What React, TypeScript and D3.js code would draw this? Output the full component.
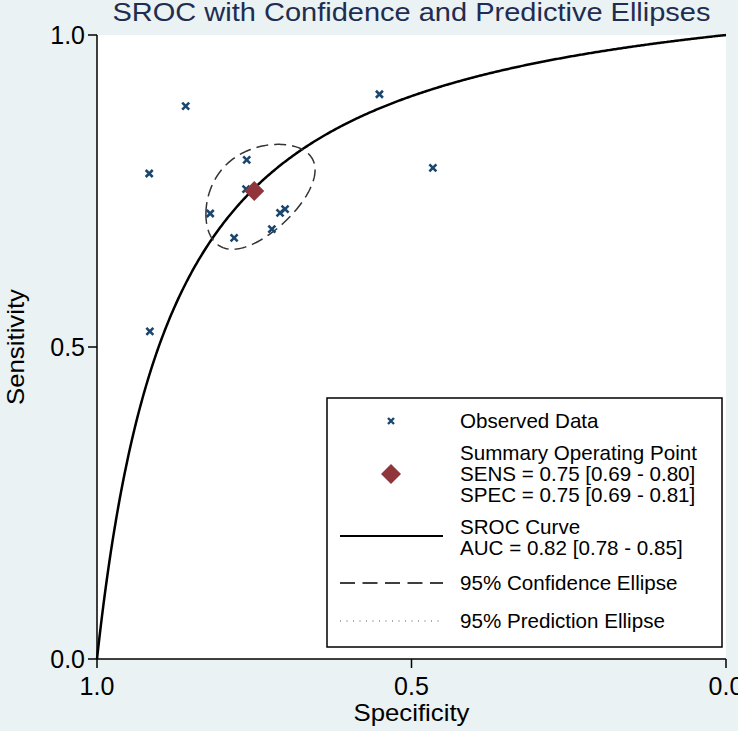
import * as d3 from "d3";

// observed studies (specificity, sensitivity)
const obsSpec = [0.917, 0.859, 0.916, 0.762, 0.820, 0.782, 0.722, 0.709, 0.701, 0.551, 0.466, 0.763];
const obsSens = [0.778, 0.886, 0.525, 0.800, 0.714, 0.675, 0.689, 0.715, 0.721, 0.905, 0.787, 0.753];

// summary operating point
const sumSens = 0.75;
const sumSpec = 0.75;

// SROC: logit(sens) = alpha + beta * logit(1 - spec)
const srocAlpha = 2.22;
const srocBeta = 1.0;

// confidence ellipse in logit space
const seLogitSpec = 0.19;
const seLogitSens = 0.184;
const rhoLogit = -0.42;
const chi2k = 2.447;

const ticks = [1.0, 0.5, 0.0];
const legendLabels = [
  ["Observed Data"],
  ["Summary Operating Point", "SENS = 0.75 [0.69 - 0.80]", "SPEC = 0.75 [0.69 - 0.81]"],
  ["SROC Curve", "AUC = 0.82 [0.78 - 0.85]"],
  ["95% Confidence Ellipse"],
  ["95% Prediction Ellipse"],
];

const W = 738;
const H = 731;
const left = 97, right = 726, top = 35, bottom = 659;
const font = "Arial, 'Liberation Sans', sans-serif";
const navy = "#1a476f";
const maroon = "#90353b";

const logit = (p: number) => Math.log(p / (1 - p));
const expit = (v: number) => 1 / (1 + Math.exp(-v));

export default function App() {
  const x = d3.scaleLinear().domain([1, 0]).range([left, right]);
  const y = d3.scaleLinear().domain([0, 1]).range([bottom, top]);

  const line = d3.line<[number, number]>().x(d => x(d[0])).y(d => y(d[1]));

  const fprs = d3.range(0, 1.0001, 0.002);
  const curve: [number, number][] = fprs.map(f => {
    if (f <= 0) return [1, 0];
    if (f >= 1) return [0, 1];
    return [1 - f, expit(srocAlpha + srocBeta * logit(f))];
  });

  const mx = logit(sumSpec), my = logit(sumSens);
  const ell: [number, number][] = d3.range(0, 2 * Math.PI + 0.001, Math.PI / 90).map(t => {
    const lx = mx + chi2k * seLogitSpec * Math.cos(t);
    const ly = my + chi2k * seLogitSens * (rhoLogit * Math.cos(t) + Math.sqrt(1 - rhoLogit * rhoLogit) * Math.sin(t));
    return [expit(lx), expit(ly)];
  });

  const xMark = (cx: number, cy: number, r: number) =>
    `M${cx - r},${cy - r}L${cx + r},${cy + r}M${cx - r},${cy + r}L${cx + r},${cy - r}`;
  const diamond = (cx: number, cy: number, r: number) =>
    `M${cx},${cy - r}L${cx + r},${cy}L${cx},${cy + r}L${cx - r},${cy}Z`;

  // legend layout
  const lgX = 327, lgY = 398, lgW = 395, lgH = 249;
  const symX = 391, txtX = 460;
  const rowY = [421, 474, 536, 583, 621];
  const firstLineY = [421, 453, 527, 583, 621];
  const lh = 21;

  return (
    <svg width={W} height={H} style={{ position: "absolute", left: 0, top: 0, fontFamily: font }}>
      <rect width={W} height={H} fill="#eaf2f3" />
      <rect x={left} y={top} width={right - left} height={bottom - top} fill="#ffffff" />

      <text x={(left + right) / 2} y={21} textAnchor="middle" fontSize={26} fill="#1e2d50"
        textLength={598} lengthAdjust="spacingAndGlyphs">
        SROC with Confidence and Predictive Ellipses
      </text>

      {/* SROC curve */}
      <path d={line(curve) || ""} fill="none" stroke="#000" strokeWidth={2.5} />

      {/* confidence ellipse */}
      <path d={line(ell) || ""} fill="none" stroke="#333" strokeWidth={1.5} strokeDasharray="12,6" />

      {/* observed */}
      {obsSpec.map((s, i) => (
        <path key={i} d={xMark(x(s), y(obsSens[i]), 3.5)} stroke={navy} strokeWidth={2.6} fill="none" />
      ))}

      {/* summary point */}
      <path d={diamond(x(sumSpec), y(sumSens), 10)} fill={maroon} />

      {/* axes */}
      <line x1={left} x2={left} y1={top} y2={bottom} stroke="#000" strokeWidth={1.5} />
      <line x1={left} x2={right} y1={bottom} y2={bottom} stroke="#000" strokeWidth={1.5} />
      {ticks.map(t => (
        <g key={"y" + t}>
          <line x1={left - 9} x2={left} y1={y(t)} y2={y(t)} stroke="#000" strokeWidth={1.5} />
          <text x={left - 12} y={y(t) + 9} textAnchor="end" fontSize={25} fill="#000">{t.toFixed(1)}</text>
        </g>
      ))}
      {ticks.map(t => (
        <g key={"x" + t}>
          <line x1={x(t)} x2={x(t)} y1={bottom} y2={bottom + 9} stroke="#000" strokeWidth={1.5} />
          <text x={x(t)} y={bottom + 36} textAnchor="middle" fontSize={25} fill="#000">{t.toFixed(1)}</text>
        </g>
      ))}
      <text x={(left + right) / 2} y={721} textAnchor="middle" fontSize={24} fill="#000"
        textLength={116} lengthAdjust="spacingAndGlyphs">Specificity</text>
      <text transform={`translate(24,${(top + bottom) / 2}) rotate(-90)`} textAnchor="middle" fontSize={24} fill="#000"
        textLength={116} lengthAdjust="spacingAndGlyphs">Sensitivity</text>

      {/* legend */}
      <rect x={lgX} y={lgY} width={lgW} height={lgH} fill="#fff" stroke="#000" strokeWidth={1.5} />
      <path d={xMark(symX, rowY[0], 3)} stroke={navy} strokeWidth={2.4} fill="none" />
      <path d={diamond(symX, rowY[1], 10)} fill={maroon} />
      <line x1={340} x2={443} y1={rowY[2]} y2={rowY[2]} stroke="#000" strokeWidth={2.2} />
      <line x1={340} x2={443} y1={rowY[3]} y2={rowY[3]} stroke="#000" strokeWidth={1.5} strokeDasharray="15,7.5" />
      <line x1={340} x2={443} y1={rowY[4]} y2={rowY[4]} stroke="#555" strokeWidth={1} strokeDasharray="1,5.5" />
      {legendLabels.map((lines, i) =>
        lines.map((s, j) => (
          <text key={i + "-" + j} x={txtX} y={firstLineY[i] + j * lh + 7} fontSize={20.6} fill="#000">{s}</text>
        ))
      )}
    </svg>
  );
}
